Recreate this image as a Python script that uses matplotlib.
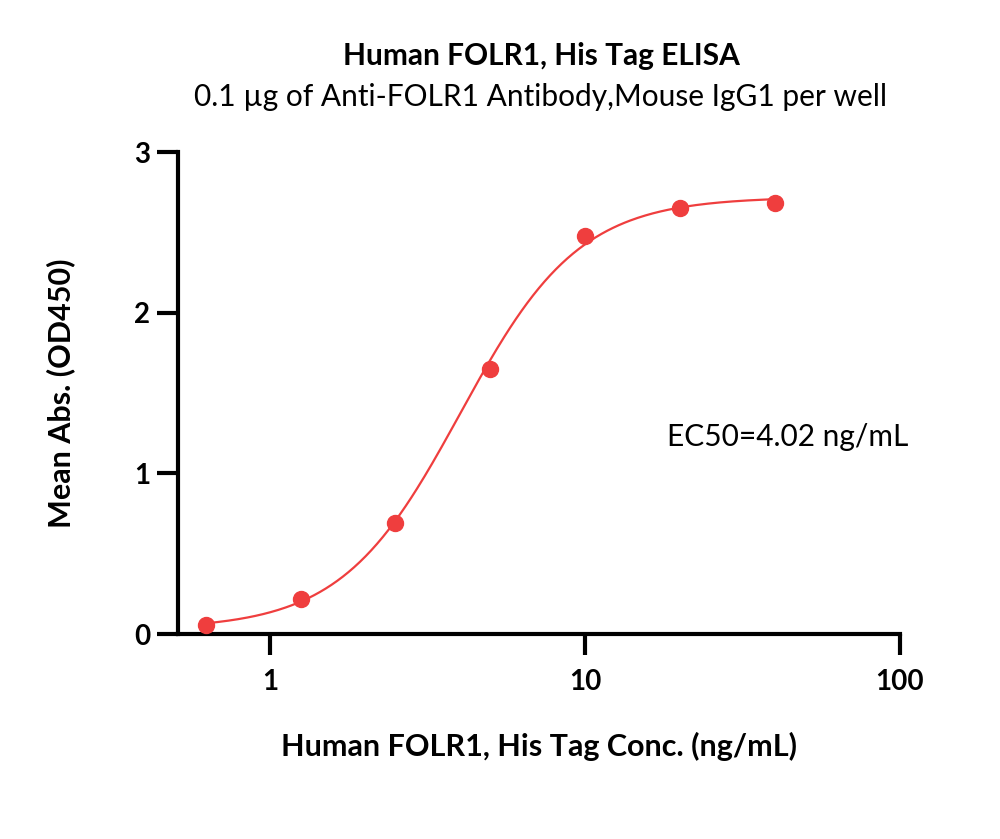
import numpy as np
import matplotlib.pyplot as plt

# ELISA dilution series (ng/mL) and mean OD450 readings
conc = [0.625, 1.25, 2.5, 5, 10, 20, 40]
od450 = [0.056, 0.215, 0.69, 1.65, 2.475, 2.65, 2.685]

# 4PL fit parameters
bottom, top, ec50, hill = 0.03, 2.72, 4.02, 2.3

plt.rcParams['font.family'] = ['Lato', 'DejaVu Sans']

fig = plt.figure(figsize=(10, 8.39), dpi=100)
ax = fig.add_axes([0.178, 0.2443, 0.722, 0.5745])

red = "#ef3e3e"
xs = np.logspace(np.log10(conc[0]), np.log10(conc[-1]), 300)
ys = bottom + (top - bottom) / (1 + (ec50 / xs) ** hill)
ax.plot(xs, ys, color=red, lw=1.6, clip_on=False)
ax.plot(conc, od450, "o", color=red, ms=11.5, clip_on=False, zorder=3)

ax.set_xscale("log")
ax.set_xlim(0.51, 100)
ax.set_ylim(0, 3)
ax.set_xticks([1, 10, 100])
ax.set_xticklabels(["1", "10", "100"])
ax.xaxis.set_minor_locator(plt.NullLocator())
ax.set_yticks([0, 1, 2, 3])

for s in ["top", "right"]:
    ax.spines[s].set_visible(False)
for s in ["left", "bottom"]:
    ax.spines[s].set_linewidth(3)
ax.tick_params(width=3, length=15, labelsize=20)
ax.tick_params(axis="x", pad=10)
ax.tick_params(axis="y", pad=5)
for lab in ax.get_xticklabels() + ax.get_yticklabels():
    lab.set_fontweight("bold")

ax.set_xlabel("Human FOLR1, His Tag Conc. (ng/mL)", fontsize=22, fontweight="bold", labelpad=27)
ax.set_ylabel("Mean Abs. (OD450)", fontsize=22, fontweight="bold", labelpad=42)

fig.text(0.541, 0.933, "Human FOLR1, His Tag ELISA", ha="center", va="center",
         fontsize=21.5, fontweight="bold")
fig.text(0.54, 0.884, "0.1 µg of Anti-FOLR1 Antibody,Mouse IgG1 per well", ha="center",
         va="center", fontsize=21.5)
ax.text(1.011, 1.226, "EC50=4.02 ng/mL", ha="right", va="center", fontsize=21.5,
        transform=ax.get_yaxis_transform())

fig.savefig("out.png", dpi=100)
